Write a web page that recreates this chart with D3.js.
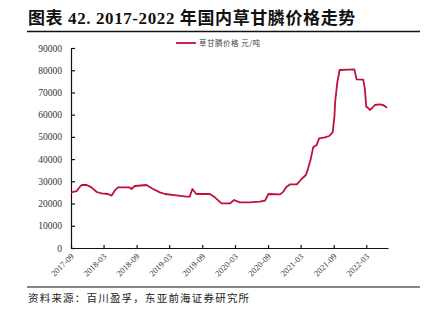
<!DOCTYPE html>
<html>
<head>
<meta charset="utf-8">
<script src="https://cdn.jsdelivr.net/npm/d3@7"></script>
<style>
  body { margin: 0; background: #fff; }
  svg { display: block; }
</style>
</head>
<body>
<div id="chart"></div>
<script>
// glyphosate price, yuan/ton
const dates = [
  "2017-09-01","2017-10-02","2017-10-15","2017-10-30","2017-11-27","2017-12-24",
  "2018-01-22","2018-02-18","2018-03-25","2018-04-14","2018-05-02","2018-05-20",
  "2018-07-24","2018-08-03","2018-08-22","2018-10-26","2018-12-02","2019-01-08",
  "2019-02-06","2019-04-10","2019-06-05","2019-06-23","2019-07-08","2019-07-30",
  "2019-10-13","2019-11-10","2019-12-17","2020-02-03","2020-02-25","2020-03-28",
  "2020-05-22","2020-07-17","2020-08-15","2020-09-03","2020-11-07","2020-11-25",
  "2020-12-10","2021-01-02","2021-02-08","2021-03-06","2021-03-30","2021-04-12",
  "2021-04-25","2021-05-10","2021-05-29","2021-06-12","2021-07-14","2021-08-07",
  "2021-08-26","2021-09-05","2021-09-09","2021-09-21","2021-10-04","2021-11-22",
  "2021-12-25","2022-01-06","2022-02-12","2022-02-21","2022-03-01","2022-03-08",
  "2022-03-21","2022-04-03","2022-04-18","2022-05-12","2022-06-03","2022-06-24"
];
const prices = [
  25050, 25600, 27000, 28350, 28350, 27300,
  25200, 24600, 24300, 23550, 25800, 27300,
  27300, 26550, 27900, 28350, 26550, 25050,
  24300, 23700, 23100, 23100, 26550, 24300,
  24300, 22800, 20100, 20100, 21600, 20550,
  20550, 20850, 21300, 24300, 24150, 25350,
  27300, 28650, 28650, 31050, 32850, 35850,
  39600, 45300, 46350, 49350, 49800, 50400,
  52000, 59100, 65700, 74500, 80100, 80250,
  80400, 75900, 75800, 71800, 63600, 63300,
  62100, 63000, 64350, 64650, 64350, 63150
];
const tickLabels = ["2017-09","2018-03","2018-09","2019-03","2019-09","2020-03",
                    "2020-09","2021-03","2021-09","2022-03"];
const yTicks = [0,10000,20000,30000,40000,50000,60000,70000,80000,90000];

const W = 432, H = 314;
const parse = d3.timeParse("%Y-%m-%d");
const parseM = d3.timeParse("%Y-%m");
const series = dates.map((d, i) => ({date: parse(d), value: prices[i]}));

const svg = d3.select("#chart").append("svg")
    .attr("width", W).attr("height", H);

// title + rules
svg.append("text")
    .attr("x", 28).attr("y", 24)
    .attr("font-family", "'Liberation Serif', 'Noto Sans CJK SC', serif")
    .attr("font-weight", "bold")
    .attr("font-size", 17)
    .attr("letter-spacing", 0.6)
    .attr("fill", "#111")
    .text("图表 42. 2017-2022 年国内草甘膦价格走势");
svg.append("line")
    .attr("x1", 27).attr("x2", 420).attr("y1", 31.5).attr("y2", 31.5)
    .attr("stroke", "#111").attr("stroke-width", 1.6);
svg.append("line")
    .attr("x1", 27).attr("x2", 420).attr("y1", 287).attr("y2", 287)
    .attr("stroke", "#111").attr("stroke-width", 1.2);
svg.append("text")
    .attr("x", 28).attr("y", 302)
    .attr("font-family", "'Noto Sans CJK SC', sans-serif")
    .attr("font-size", 10.5)
    .attr("fill", "#222")
    .attr("letter-spacing", 1.2)
    .text("资料来源：百川盈孚，东亚前海证券研究所");

const x = d3.scaleTime()
    .domain([parse("2017-09-01"), parse("2022-06-30")])
    .range([71, 388]);
const y = d3.scaleLinear().domain([0, 90000]).range([248, 48]);

const yAxis = svg.append("g")
    .attr("transform", "translate(71,0)")
    .call(d3.axisLeft(y).tickValues(yTicks).tickFormat(d3.format("d"))
        .tickSize(-4).tickPadding(9).tickSizeOuter(0));
yAxis.selectAll("text")
    .attr("font-family", "'Liberation Serif', serif")
    .attr("font-size", 9.5).attr("fill", "#333");

const xAxis = svg.append("g")
    .attr("transform", "translate(0,248)")
    .call(d3.axisBottom(x).tickValues(tickLabels.map(parseM))
        .tickFormat(d3.timeFormat("%Y-%m")).tickSize(-3).tickSizeOuter(0));
xAxis.selectAll("text")
    .attr("font-family", "'Liberation Serif', serif")
    .attr("font-size", 8.5).attr("fill", "#333")
    .attr("text-anchor", "end")
    .attr("y", 0).attr("dy", 0)
    .attr("transform", "translate(3,9) rotate(-45)");
svg.selectAll(".domain, .tick line").attr("stroke", "#111").attr("stroke-width", 1.2);

// price line
const line = d3.line().x(d => x(d.date)).y(d => y(d.value));
svg.append("path")
    .datum(series)
    .attr("fill", "none")
    .attr("stroke", "#C0103A")
    .attr("stroke-width", 1.8)
    .attr("stroke-linejoin", "round")
    .attr("d", line);

// legend
svg.append("line")
    .attr("x1", 176).attr("x2", 196).attr("y1", 43).attr("y2", 43)
    .attr("stroke", "#C0103A").attr("stroke-width", 1.8);
svg.append("text")
    .attr("x", 199).attr("y", 46)
    .attr("font-family", "'Noto Sans CJK SC', sans-serif")
    .attr("font-size", 7.5).attr("fill", "#444")
    .attr("letter-spacing", 0.5)
    .text("草甘膦价格  元/吨");
</script>
</body>
</html>
